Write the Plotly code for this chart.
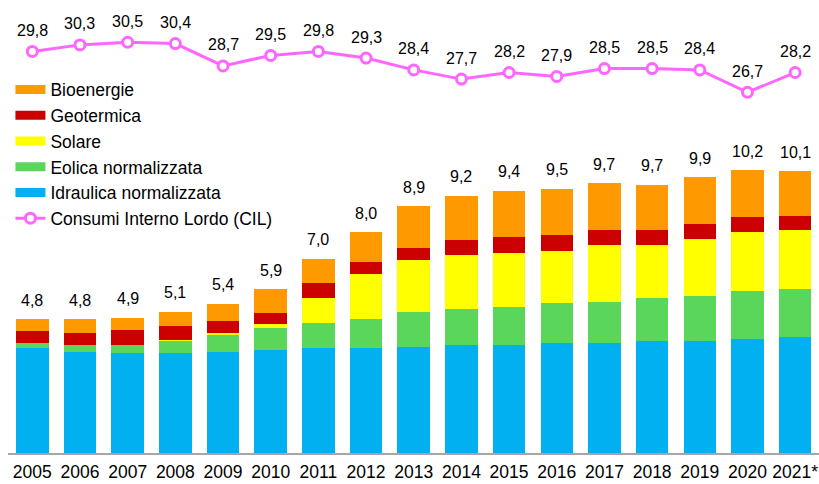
import plotly.graph_objects as go

years = ['2005', '2006', '2007', '2008', '2009', '2010', '2011', '2012', '2013',
         '2014', '2015', '2016', '2017', '2018', '2019', '2020', '2021*']
idraulica = [3.78, 3.65, 3.59, 3.62, 3.65, 3.71, 3.77, 3.77, 3.83, 3.90, 3.90, 3.96, 3.96, 4.02, 4.02, 4.09, 4.17]
eolica = [0.20, 0.25, 0.31, 0.44, 0.59, 0.78, 0.90, 1.06, 1.24, 1.30, 1.37, 1.43, 1.49, 1.56, 1.64, 1.75, 1.74]
solare = [0.00, 0.00, 0.00, 0.01, 0.08, 0.14, 0.91, 1.62, 1.89, 1.95, 1.93, 1.89, 2.06, 1.93, 2.06, 2.14, 2.14]
geotermica = [0.43, 0.44, 0.52, 0.52, 0.42, 0.43, 0.53, 0.44, 0.44, 0.52, 0.59, 0.58, 0.53, 0.53, 0.52, 0.52, 0.50]
bioenergie = [0.41, 0.48, 0.45, 0.50, 0.63, 0.84, 0.88, 1.07, 1.49, 1.59, 1.66, 1.66, 1.68, 1.63, 1.69, 1.68, 1.60]
totali = [4.8, 4.8, 4.9, 5.1, 5.4, 5.9, 7.0, 8.0, 8.9, 9.2, 9.4, 9.5, 9.7, 9.7, 9.9, 10.2, 10.1]
cil = [29.8, 30.3, 30.5, 30.4, 28.7, 29.5, 29.8, 29.3, 28.4, 27.7, 28.2, 27.9, 28.5, 28.5, 28.4, 26.7, 28.2]

FONT = "Arial, 'Liberation Sans', sans-serif"
PINK = '#FF66FF'

def fmt(v):
    return f"{v:.1f}".replace('.', ',')

series = [
    ('Bioenergie', bioenergie, '#FF9900'),
    ('Geotermica', geotermica, '#CC0000'),
    ('Solare', solare, '#FFFF00'),
    ('Eolica normalizzata', eolica, '#5AD75A'),
    ('Idraulica normalizzata', idraulica, '#00B0F0'),
]

fig = go.Figure()

# bars, stacked bottom-up
for name, vals, col in reversed(series):
    fig.add_trace(go.Bar(x=years, y=vals, name=name, marker=dict(color=col, line=dict(width=0)),
                         showlegend=False, legendgroup=name, hoverinfo='x+y+name'))

# legend proxies (wide swatches) in top-down order
for name, vals, col in series:
    fig.add_trace(go.Scatter(x=[None], y=[None], mode='lines', name=name, legendgroup=name,
                             line=dict(color=col, width=9)))

fig.add_trace(go.Scatter(x=years, y=cil, yaxis='y2', mode='lines+markers',
                         name='Consumi Interno Lordo (CIL)', legendgroup='cil',
                         line=dict(color=PINK, width=3),
                         marker=dict(size=10, color='white', line=dict(color=PINK, width=3))))

totals_pos = [round(a + b + c + d + e, 3) for a, b, c, d, e in zip(idraulica, eolica, solare, geotermica, bioenergie)]
annotations = []
for i, (yv, t) in enumerate(zip(totals_pos, totali)):
    annotations.append(dict(x=i, y=yv, xref='x', yref='y', text=fmt(t), showarrow=False,
                            yanchor='middle', yshift=19, font=dict(size=16, color='black', family=FONT)))
for i, yv in enumerate(cil):
    annotations.append(dict(x=i, y=yv, xref='x', yref='y2', text=fmt(yv), showarrow=False,
                            yanchor='middle', yshift=21, font=dict(size=16, color='black', family=FONT)))

fig.update_layout(
    width=819, height=484,
    margin=dict(l=8, r=0, t=0, b=31),
    paper_bgcolor='white', plot_bgcolor='white',
    barmode='stack', bargap=0.318,
    font=dict(family=FONT, color='black', size=16),
    xaxis=dict(type='category', range=[-0.51, 16.5], showgrid=False, zeroline=False,
               showline=True, linecolor='#A6A6A6', linewidth=1.5, ticks='',
               ticklabelstandoff=2, automargin=False,
               tickfont=dict(size=17.5, color='black', family=FONT)),
    yaxis=dict(range=[0, 16.32], visible=False, showgrid=False, zeroline=False),
    yaxis2=dict(range=[-0.71, 33.71], overlaying='y', visible=False, showgrid=False, zeroline=False),
    legend=dict(x=0.003, y=0.842, xanchor='left', yanchor='top', bgcolor='rgba(0,0,0,0)',
                traceorder='normal', tracegroupgap=5.0, font=dict(size=17.5, color='black', family=FONT)),
    annotations=annotations,
    showlegend=True,
)

fig.write_html("out.html", config={'displayModeBar': False},
               post_script="document.body.style.margin='0';document.body.style.padding='0';")
